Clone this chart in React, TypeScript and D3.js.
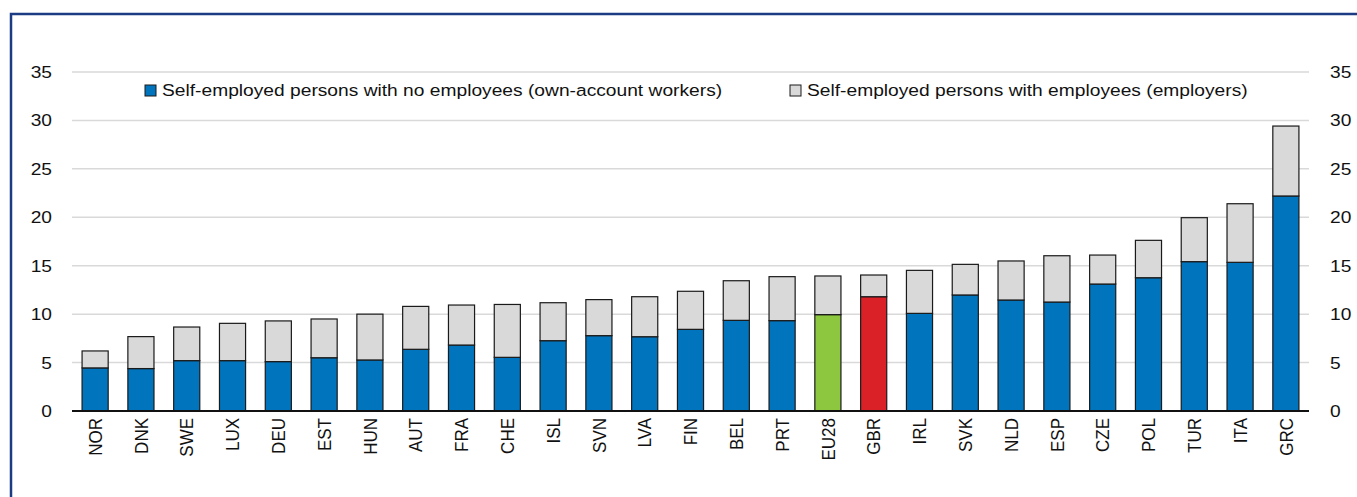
import React from "react";
import * as d3 from "d3";

const categories = ["NOR","DNK","SWE","LUX","DEU","EST","HUN","AUT","FRA","CHE","ISL","SVN","LVA","FIN","BEL","PRT","EU28","GBR","IRL","SVK","NLD","ESP","CZE","POL","TUR","ITA","GRC"];
const ownAccount = [4.45,4.38,5.2,5.2,5.1,5.5,5.27,6.37,6.81,5.54,7.26,7.78,7.67,8.43,9.36,9.33,9.95,11.8,10.08,11.98,11.46,11.25,13.11,13.76,15.42,15.35,22.2];
const totals = [6.2,7.68,8.67,9.05,9.3,9.5,10.0,10.8,10.94,11.0,11.18,11.5,11.8,12.36,13.45,13.87,13.94,14.04,14.52,15.14,15.49,16.03,16.1,17.62,19.96,21.4,29.42];
const employers = totals.map((t, i) => +(t - ownAccount[i]).toFixed(2));
const yTicks = [0,5,10,15,20,25,30,35];
const legendLabels = ["Self-employed persons with no employees (own-account workers)", "Self-employed persons with employees (employers)"];

const W = 1357, H = 497;
const left = 72, right = 1309, top = 72, bottom = 411;
const BLUE = "#0075be", GREY = "#d9d9d9", GREEN = "#8dc63f", RED = "#da2128";
const FONT = "Liberation Sans, Arial, sans-serif";
const SX = 1.13;

export default function App() {
  const x = d3.scaleBand<string>().domain(categories).range([left, right]).paddingInner(0.43).paddingOuter(0.22);
  const y = d3.scaleLinear().domain([0, 35]).range([bottom, top]);
  const colorFor = (c: string) => (c === "EU28" ? GREEN : c === "GBR" ? RED : BLUE);
  return (
    <svg width={W} height={H} style={{ position: "absolute", left: 0, top: 0 }} fontFamily={FONT}>
      <rect x={0} y={0} width={W} height={H} fill="#fff" />
      <path d={`M11,${H} L11,14 L${W},14`} fill="none" stroke="#1b3c84" strokeWidth={2.5} />
      {yTicks.filter(t => t > 0).map(t => (
        <line key={"g" + t} x1={left} x2={right} y1={y(t)} y2={y(t)} stroke="#d9d9d9" strokeWidth={1.5} />
      ))}
      {yTicks.map(t => (
        <g key={"t" + t}>
          <text transform={`translate(52,${y(t)}) scale(${SX},1)`} dy="0.35em" textAnchor="end" fontSize={17} fill="#111">{t}</text>
          <text transform={`translate(1330,${y(t)}) scale(${SX},1)`} dy="0.35em" textAnchor="start" fontSize={17} fill="#111">{t}</text>
        </g>
      ))}
      {categories.map((c, i) => {
        const bx = x(c)!;
        const bw = x.bandwidth();
        return (
          <g key={c}>
            <rect x={bx} y={y(ownAccount[i])} width={bw} height={y(0) - y(ownAccount[i])} fill={colorFor(c)} stroke="#1a1a1a" strokeWidth={1.2} />
            <rect x={bx} y={y(ownAccount[i] + employers[i])} width={bw} height={y(ownAccount[i]) - y(ownAccount[i] + employers[i])} fill={GREY} stroke="#1a1a1a" strokeWidth={1.2} />
            <text transform={`translate(${bx + bw / 2},418) scale(${SX},1) rotate(-90)`} dy="0.35em" textAnchor="end" fontSize={17} fill="#111">{c}</text>
          </g>
        );
      })}
      <line x1={left} x2={right} y1={bottom} y2={bottom} stroke="#111" strokeWidth={2} />
      <rect x={145} y={85} width={11} height={11} fill={BLUE} stroke="#1a1a1a" strokeWidth={1} />
      <text transform={`translate(162,90.5) scale(${SX},1)`} dy="0.35em" fontSize={17} fill="#111">{legendLabels[0]}</text>
      <rect x={790} y={85} width={11} height={11} fill={GREY} stroke="#1a1a1a" strokeWidth={1} />
      <text transform={`translate(807,90.5) scale(${SX},1)`} dy="0.35em" fontSize={17} fill="#111">{legendLabels[1]}</text>
    </svg>
  );
}
